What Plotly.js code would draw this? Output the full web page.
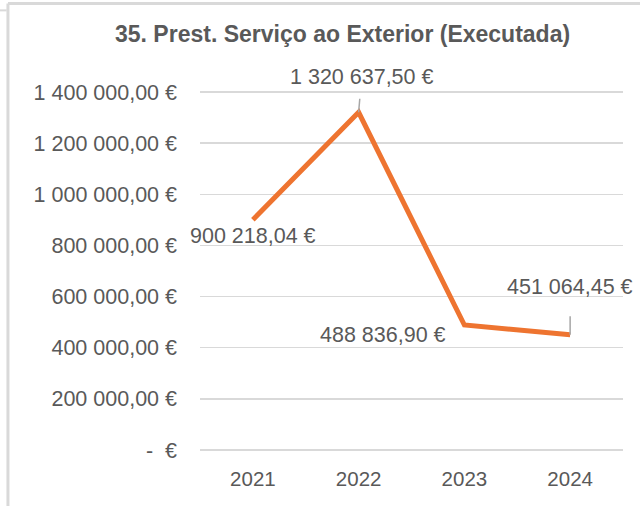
<!DOCTYPE html>
<html>
<head>
<meta charset="utf-8">
<script src="https://cdn.plot.ly/plotly-3.0.1.min.js"></script>
<style>
  html, body { margin: 0; padding: 0; background: #fff; }
  #chart { width: 640px; height: 506px; }
</style>
</head>
<body>
<div id="chart"></div>
<script>
// data
var years = ['2021', '2022', '2023', '2024'];
var values = [900218.04, 1320637.50, 488836.90, 451064.45];
var yTicks = [0, 200000, 400000, 600000, 800000, 1000000, 1200000, 1400000];

// label placement (pixel offsets from each point)
var labelDx = [0, 3, -81, 0];
var labelDy = [16, -35, 10, -48];
var leader = [false, true, false, true];

function euro(v) {
    if (v === 0) return '-  €';
    var parts = v.toFixed(2).split('.');
    var whole = parts[0].replace(/\B(?=(\d{3})+(?!\d))/g, ' ');
    return whole + ',' + parts[1] + ' €';
}

var font = 'Liberation Sans, Arial, sans-serif';
var grey = '#595959';

var data = [{
    x: years,
    y: values,
    type: 'scatter',
    mode: 'lines',
    line: {color: '#EE7430', width: 5},
    hoverinfo: 'skip'
}];

// category axis: annotations are placed by category index
var annotations = years.map(function (yr, i) {
    var a = {
        x: i,
        y: values[i],
        xref: 'x',
        yref: 'y',
        text: euro(values[i]),
        font: {family: font, size: 21.5, color: grey}
    };
    if (leader[i]) {
        a.showarrow = true;
        a.arrowhead = 0;
        a.arrowwidth = 1.5;
        a.arrowcolor = '#A6A6A6';
        a.ax = labelDx[i];
        a.ay = labelDy[i];
        a.startstandoff = i === 1 ? 8 : 16;
    } else {
        a.showarrow = false;
        a.xshift = labelDx[i];
        a.yshift = -labelDy[i];
    }
    return a;
});

annotations.push({
    text: '<b>35. Prest. Serviço ao Exterior (Executada)</b>',
    xref: 'paper', yref: 'paper',
    x: 0.336, y: 1.159,
    xanchor: 'center', yanchor: 'middle',
    showarrow: false,
    font: {family: font, size: 23, color: grey}
});

var border = '#D9D9D9';
var layout = {
    width: 640,
    height: 506,
    margin: {l: 200, r: 17, t: 91, b: 55},
    paper_bgcolor: '#ffffff',
    plot_bgcolor: '#ffffff',
    showlegend: false,
    xaxis: {
        type: 'category',
        showgrid: false,
        showline: false,
        zeroline: false,
        ticks: '',
        ticklabelstandoff: 13,
        tickfont: {family: font, size: 20.5, color: grey},
        range: [-0.5, 3.5]
    },
    yaxis: {
        // padded a little so the 0 and 1 400 000 gridlines are drawn
        range: [-4000, 1404000],
        tickvals: yTicks,
        ticktext: yTicks.map(euro),
        showgrid: true,
        gridcolor: border,
        gridwidth: 1.5,
        zeroline: false,
        showline: false,
        ticks: '',
        ticklabelstandoff: 22,
        tickfont: {family: font, size: 21.5, color: grey}
    },
    annotations: annotations,
    shapes: [
        {type: 'line', xref: 'paper', yref: 'paper', x0: -0.454, x1: 1.05, y0: 1.243, y1: 1.243,
         line: {color: border, width: 3}},
        {type: 'line', xref: 'paper', yref: 'paper', x0: -0.454, x1: -0.454, y0: 1.243, y1: -0.16,
         line: {color: border, width: 3}},
        {type: 'line', xref: 'paper', yref: 'paper', x0: -0.48, x1: -0.457, y0: 1.224, y1: 1.224,
         line: {color: border, width: 2}}
    ]
};

Plotly.newPlot('chart', data, layout, {staticPlot: true});
</script>
</body>
</html>
